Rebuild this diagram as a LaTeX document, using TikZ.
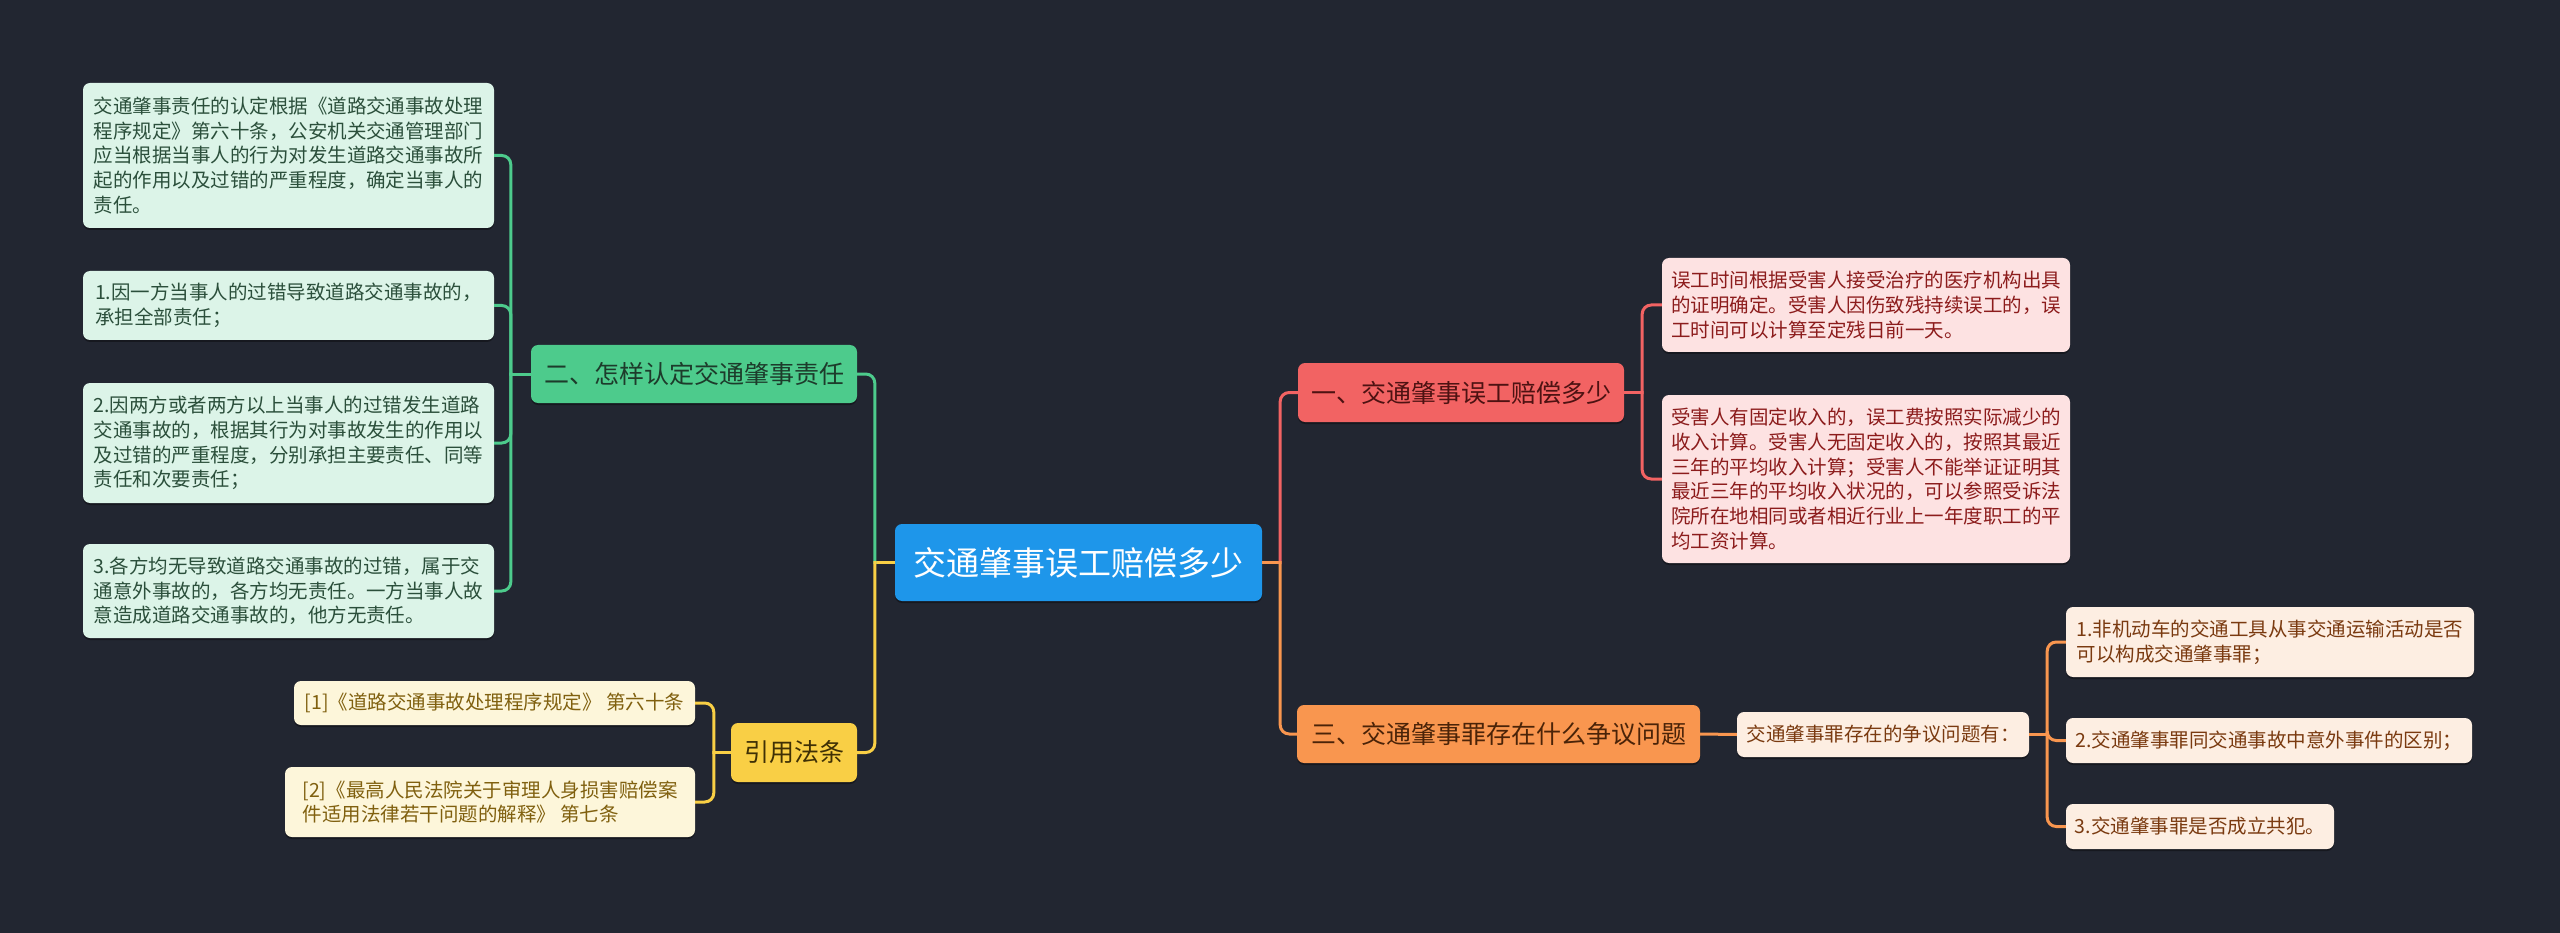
\documentclass[tikz,border=0pt]{standalone}
\usepackage{fontspec}
\setmainfont{Noto Sans CJK SC}
\definecolor{bgc}{HTML}{222631}
\definecolor{cfill}{HTML}{1E96EA}
\definecolor{gfill}{HTML}{4DCB8C}
\definecolor{gtext}{HTML}{1D3B2B}
\definecolor{glfill}{HTML}{DCF4E8}
\definecolor{gltext}{HTML}{2B4F3B}
\definecolor{rfill}{HTML}{F26363}
\definecolor{rtext}{HTML}{4D1212}
\definecolor{rlfill}{HTML}{FDE2E2}
\definecolor{rltext}{HTML}{8C1C1C}
\definecolor{ofill}{HTML}{F9964F}
\definecolor{otext}{HTML}{4A2308}
\definecolor{olfill}{HTML}{FDEEE2}
\definecolor{oltext}{HTML}{7A3A10}
\definecolor{yfill}{HTML}{F9CF45}
\definecolor{ytext}{HTML}{3F3005}
\definecolor{ylfill}{HTML}{FDF6DA}
\definecolor{yltext}{HTML}{80600F}
\begin{document}
\begin{tikzpicture}[x=1pt,y=-1pt,
  box/.style={rounded corners=7pt, inner sep=0pt, align=left,
    preaction={fill=black, fill opacity=0.35, transform canvas={yshift=-2pt}}},
  small/.style={font=\fontsize{19.5pt}{24.7pt}\selectfont},
  mid/.style={font=\fontsize{25pt}{30pt}\selectfont},
  centerbox/.style={box, fill=cfill, text=white, font=\fontsize{33pt}{38pt}\selectfont},
  gbranch/.style={box, mid, fill=gfill, text=gtext},
  gleaf/.style={box, small, fill=glfill, text=gltext},
  rbranch/.style={box, mid, fill=rfill, text=rtext},
  rleaf/.style={box, small, fill=rlfill, text=rltext},
  obranch/.style={box, mid, fill=ofill, text=otext},
  oleaf/.style={box, small, fill=olfill, text=oltext},
  ybranch/.style={box, mid, fill=yfill, text=ytext},
  yleaf/.style={box, small, fill=ylfill, text=yltext},
  link/.style={line width=3pt},
  curvelink/.style={line width=3pt, rounded corners=9pt},
  glink/.style={link, draw=gfill},
  rlink/.style={link, draw=rfill},
  olink/.style={link, draw=ofill},
  ylink/.style={link, draw=yfill},
  gcurve/.style={curvelink, draw=gfill},
  rcurve/.style={curvelink, draw=rfill},
  ocurve/.style={curvelink, draw=ofill},
  ycurve/.style={curvelink, draw=yfill}]
\fill[bgc] (0,0) rectangle (2560,933);
\useasboundingbox (0,0) rectangle (2560,933);

% center
\node[centerbox, minimum width=367pt, minimum height=77pt] (c) at (1078.5,562.5) {交通肇事误工赔偿多少};

% branches
\node[gbranch, minimum width=326pt, minimum height=58pt] (g) at (694,374) {二、怎样认定交通肇事责任};
\node[ybranch, minimum width=126pt, minimum height=59pt] (y) at (794,752.5) {引用法条};
\node[rbranch, minimum width=326pt, minimum height=59pt] (r) at (1461,392.5) {一、交通肇事误工赔偿多少};
\node[obranch, minimum width=403pt, minimum height=58pt] (o) at (1498.5,734) {三、交通肇事罪存在什么争议问题};

% green leaves
\node[gleaf, minimum width=411pt, minimum height=145pt] (g1) at (288.5,155.5) {交通肇事责任的认定根据《道路交通事故处理\\程序规定》第六十条，公安机关交通管理部门\\应当根据当事人的行为对发生道路交通事故所\\起的作用以及过错的严重程度，确定当事人的\\责任。};
\node[gleaf, minimum width=411pt, minimum height=69pt] (g2) at (288.5,305.5) {1.因一方当事人的过错导致道路交通事故的，\\承担全部责任；};
\node[gleaf, minimum width=411pt, minimum height=120pt] (g3) at (288.5,443) {2.因两方或者两方以上当事人的过错发生道路\\交通事故的，根据其行为对事故发生的作用以\\及过错的严重程度，分别承担主要责任、同等\\责任和次要责任；};
\node[gleaf, minimum width=411pt, minimum height=94pt] (g4) at (288.5,591) {3.各方均无导致道路交通事故的过错，属于交\\通意外事故的，各方均无责任。一方当事人故\\意造成道路交通事故的，他方无责任。};

% yellow leaves
\node[yleaf, minimum width=401pt, minimum height=44pt] (y1) at (494.5,703) {[1]《道路交通事故处理程序规定》 第六十条};
\node[yleaf, minimum width=410pt, minimum height=70pt] (y2) at (490,802) {[2]《最高人民法院关于审理人身损害赔偿案\\件适用法律若干问题的解释》 第七条};

% red leaves
\node[rleaf, minimum width=408pt, minimum height=94pt] (r1) at (1866,305) {误工时间根据受害人接受治疗的医疗机构出具\\的证明确定。受害人因伤致残持续误工的，误\\工时间可以计算至定残日前一天。};
\node[rleaf, minimum width=408pt, minimum height=168pt] (r2) at (1866,479) {受害人有固定收入的，误工费按照实际减少的\\收入计算。受害人无固定收入的，按照其最近\\三年的平均收入计算；受害人不能举证证明其\\最近三年的平均收入状况的，可以参照受诉法\\院所在地相同或者相近行业上一年度职工的平\\均工资计算。};

% orange
\node[oleaf, minimum width=292pt, minimum height=45pt] (om) at (1883,734.5) {交通肇事罪存在的争议问题有：};
\node[oleaf, minimum width=408pt, minimum height=70pt] (o1) at (2270,642) {1.非机动车的交通工具从事交通运输活动是否\\可以构成交通肇事罪；};
\node[oleaf, minimum width=406pt, minimum height=45pt] (o2) at (2269,740.5) {2.交通肇事罪同交通事故中意外事件的区别；};
\node[oleaf, minimum width=268pt, minimum height=45pt] (o3) at (2200,826.5) {3.交通肇事罪是否成立共犯。};

% junction points
\coordinate (cl) at ([xshift=-20pt]c.west);
\coordinate (cr) at ([xshift=18pt]c.east);
\coordinate (gl) at ([xshift=-20pt]g.west);
\coordinate (yl) at ([xshift=-17pt]y.west);
\coordinate (rr) at ([xshift=18pt]r.east);
\coordinate (omr) at ([xshift=18pt]om.east);

% connectors: center
\draw[ylink] (c.west) -- (cl);
\draw[gcurve] ([yshift=-1.5pt]cl) |- (g.east);
\draw[ycurve] ([yshift=1.5pt]cl) |- (y.east);
\draw[olink] (c.east) -- (cr);
\draw[rcurve] ([yshift=-1.5pt]cr) |- (r.west);
\draw[ocurve] ([yshift=1.5pt]cr) |- (o.west);

% green
\draw[glink] (g.west) -- (gl);
\draw[gcurve] ([yshift=-1.5pt]gl) |- (g1.east);
\draw[gcurve] ([yshift=-1.5pt]gl) |- (g2.east);
\draw[gcurve] ([yshift=1.5pt]gl) |- (g3.east);
\draw[gcurve] ([yshift=1.5pt]gl) |- (g4.east);

% yellow
\draw[ylink] (y.west) -- (yl);
\draw[ycurve] ([yshift=-1.5pt]yl) |- (y1.east);
\draw[ycurve] ([yshift=1.5pt]yl) |- (y2.east);

% red
\draw[rlink] (r.east) -- (rr);
\draw[rcurve] ([yshift=-1.5pt]rr) |- (r1.west);
\draw[rcurve] ([yshift=1.5pt]rr) |- (r2.west);

% orange
\draw[olink] (o.east) -- (om.west);
\draw[olink] (om.east) -- (omr);
\draw[ocurve] ([yshift=-1.5pt]omr) |- (o1.west);
\draw[ocurve] ([yshift=1.5pt]omr) |- (o2.west);
\draw[ocurve] ([yshift=1.5pt]omr) |- (o3.west);
\end{tikzpicture}
\end{document}
